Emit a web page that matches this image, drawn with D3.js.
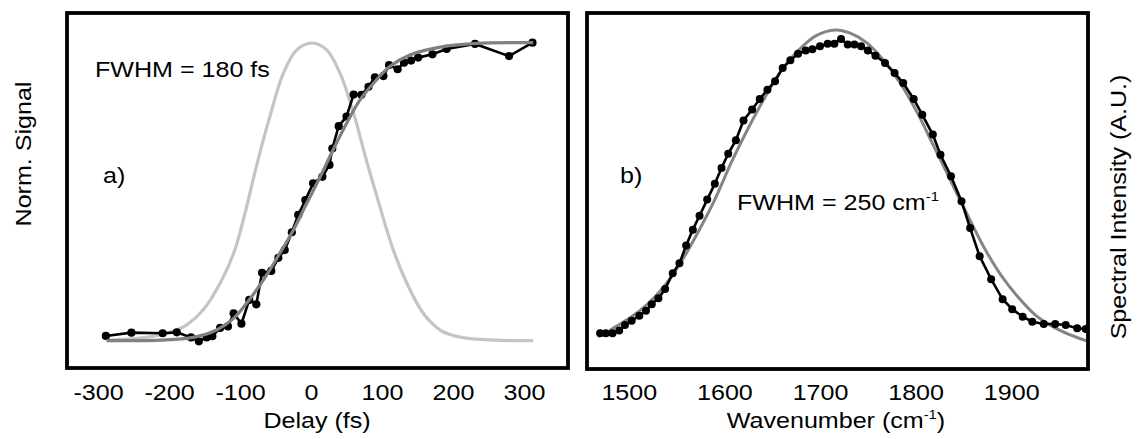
<!DOCTYPE html>
<html>
<head>
<meta charset="utf-8">
<script src="https://cdn.jsdelivr.net/npm/d3@7"></script>
<style>
  body { margin: 0; background: #fff; }
  text { font-family: "Liberation Sans", Arial, sans-serif; fill: #000; }
</style>
</head>
<body>
<svg id="chart" width="1147" height="439"></svg>
<script>
// panel a) - delay scan
var delayFs    = [-289,-253,-209,-189,-169,-158,-147,-139,-128,-117,-109,-98,-87,-77,-69,-56,-46,-37,-27,-18,-8,3,16,26,30,39,50,60,71,81,90,102,110,122,131,141,151,171,191,231,279,312];
var normSignal = [0.017,0.028,0.026,0.029,0.012,-0.001,0.012,0.016,0.044,0.049,0.093,0.058,0.138,0.123,0.229,0.235,0.279,0.305,0.365,0.423,0.473,0.529,0.551,0.591,0.646,0.721,0.753,0.827,0.826,0.853,0.885,0.889,0.926,0.912,0.934,0.941,0.951,0.962,0.980,0.997,0.956,1.001];
// fitted step (dark grey)
var fitDelay  = [-288,-213,-166,-133,-109,-91,-67,-44,-25,-6,13,31,50,69,88,111,139,186,233,313];
var fitSignal = [0.001,0.003,0.012,0.037,0.076,0.126,0.205,0.294,0.372,0.462,0.551,0.641,0.730,0.809,0.865,0.921,0.960,0.988,0.999,1.001];
// pulse (light grey)
var pulseDelay  = [-288,-240,-213,-190,-175,-152,-128,-109,-93,-77,-58,-39,-20,2,22,41,60,78,97,116,135,158,172,186,210,233,270,313];
var pulseSignal = [0.003,0.010,0.020,0.036,0.054,0.104,0.194,0.294,0.428,0.585,0.753,0.898,0.977,1.0,0.977,0.898,0.764,0.607,0.451,0.305,0.194,0.093,0.056,0.031,0.013,0.006,0.002,0.001];
var delayTicks = [-300,-200,-100,0,100,200,300];

// panel b) - spectrum
var wavenumber = [1470,1476,1483,1490,1496,1503,1511,1518,1524,1531,1538,1546,1553,1560,1567,1574,1582,1590,1597,1604,1612,1620,1629,1637,1645,1653,1661,1669,1677,1685,1692,1700,1708,1715,1722,1729,1736,1743,1750,1758,1768,1778,1787,1798,1807,1818,1826,1837,1848,1857,1867,1879,1891,1901,1912,1922,1934,1946,1957,1969,1978];
var intensity  = [0.081,0.081,0.081,0.089,0.106,0.119,0.134,0.149,0.169,0.187,0.215,0.263,0.293,0.347,0.395,0.437,0.486,0.534,0.582,0.625,0.666,0.726,0.759,0.791,0.819,0.845,0.885,0.908,0.928,0.938,0.942,0.951,0.958,0.958,0.973,0.956,0.956,0.951,0.938,0.922,0.900,0.870,0.839,0.791,0.743,0.683,0.622,0.557,0.481,0.400,0.314,0.245,0.184,0.154,0.131,0.116,0.109,0.109,0.106,0.096,0.094];
var fitWn        = [1468,1476,1484,1501,1519,1537,1554,1572,1590,1607,1625,1643,1660,1678,1696,1716,1731,1749,1766,1784,1802,1819,1837,1855,1872,1890,1908,1925,1943,1961,1980];
var fitIntensity = [0.072,0.081,0.097,0.127,0.168,0.223,0.294,0.385,0.486,0.597,0.703,0.799,0.880,0.940,0.983,1.0,0.991,0.961,0.910,0.839,0.748,0.648,0.541,0.435,0.339,0.254,0.188,0.137,0.102,0.077,0.057];
var wnTicks = [1500,1600,1700,1800,1900];

var STRETCH = 1.14;   // glyphs in the original are a bit wider than Arial
var FONT = 22;

var svg = d3.select("#chart");

// frames
var boxA = {left: 67, right: 568, top: 13, bottom: 368};
var boxB = {left: 587, right: 1088, top: 13, bottom: 369};

var xA = d3.scaleLinear().domain([-343.7, 362]).range([boxA.left, boxA.right]);
var yA = d3.scaleLinear().domain([-0.0906, 1.1007]).range([boxA.bottom, boxA.top]);
var xB = d3.scaleLinear().domain([1456.3, 1980.3]).range([boxB.left, boxB.right]);
var yB = d3.scaleLinear().domain([-0.0273, 1.0515]).range([boxB.bottom, boxB.top]);

function zip(xs, ys) {
    return xs.map(function(d, i){ return [d, ys[i]]; });
}

var defs = svg.append("defs");
[["clipA", boxA], ["clipB", boxB]].forEach(function(c){
    defs.append("clipPath").attr("id", c[0])
        .append("rect")
        .attr("x", c[1].left).attr("y", c[1].top)
        .attr("width", c[1].right - c[1].left)
        .attr("height", c[1].bottom - c[1].top);
});

// helper: stretched text label
function label(g, x, y, rot, txt) {
    var t = g.append("g")
        .attr("transform", "translate(" + x + "," + y + ") rotate(" + rot + ") scale(" + STRETCH + ",1)")
        .append("text")
        .attr("font-size", FONT);
    if (typeof txt === "string") t.text(txt);
    else txt(t);
    return t;
}

// ---------- panel a ----------
var gA = svg.append("g").attr("clip-path", "url(#clipA)");
var smooth = d3.line().x(function(d){ return xA(d[0]); }).y(function(d){ return yA(d[1]); }).curve(d3.curveCatmullRom.alpha(0.5));
var straight = d3.line().x(function(d){ return xA(d[0]); }).y(function(d){ return yA(d[1]); });

gA.append("path").datum(zip(pulseDelay, pulseSignal))
    .attr("d", smooth).attr("fill", "none")
    .attr("stroke", "#c4c4c4").attr("stroke-width", 3.2);

var dataA = zip(delayFs, normSignal);
gA.append("path").datum(dataA)
    .attr("d", straight).attr("fill", "none")
    .attr("stroke", "#000").attr("stroke-width", 2.6);
gA.selectAll("circle").data(dataA).enter().append("circle")
    .attr("cx", function(d){ return xA(d[0]); })
    .attr("cy", function(d){ return yA(d[1]); })
    .attr("r", 4.1).attr("fill", "#000");

gA.append("path").datum(zip(fitDelay, fitSignal))
    .attr("d", smooth).attr("fill", "none")
    .attr("stroke", "#808080").attr("stroke-width", 3.2);

// ---------- panel b ----------
var gB = svg.append("g").attr("clip-path", "url(#clipB)");
var smoothB = d3.line().x(function(d){ return xB(d[0]); }).y(function(d){ return yB(d[1]); }).curve(d3.curveCatmullRom.alpha(0.5));
var straightB = d3.line().x(function(d){ return xB(d[0]); }).y(function(d){ return yB(d[1]); });

gB.append("path").datum(zip(fitWn, fitIntensity))
    .attr("d", smoothB).attr("fill", "none")
    .attr("stroke", "#858585").attr("stroke-width", 3);

var dataB = zip(wavenumber, intensity);
gB.append("path").datum(dataB)
    .attr("d", straightB).attr("fill", "none")
    .attr("stroke", "#000").attr("stroke-width", 2.6);
gB.selectAll("circle").data(dataB).enter().append("circle")
    .attr("cx", function(d){ return xB(d[0]); })
    .attr("cy", function(d){ return yB(d[1]); })
    .attr("r", 4).attr("fill", "#000");

// frames on top
[boxA, boxB].forEach(function(b){
    svg.append("rect")
        .attr("x", b.left).attr("y", b.top)
        .attr("width", b.right - b.left).attr("height", b.bottom - b.top)
        .attr("fill", "none").attr("stroke", "#000").attr("stroke-width", 3.8);
});

// axes: labels only, no tick lines
function fmt(d){ return String(d).replace("\u2212", "-"); }
function axis(scale, ticks, y) {
    var ax = svg.append("g")
        .attr("transform", "translate(0," + y + ")")
        .call(d3.axisBottom(scale).tickValues(ticks).tickSize(0).tickFormat(fmt));
    ax.select(".domain").remove();
    ax.selectAll("text")
        .attr("y", 0).attr("dy", 0)
        .attr("font-size", FONT)
        .attr("font-family", "Liberation Sans, Arial, sans-serif")
        .attr("fill", "#000")
        .attr("transform", "scale(" + STRETCH + ",1)");
}
axis(xA, delayTicks, 400);
axis(xB, wnTicks, 400);

label(svg, 317, 428, 0, "Delay (fs)").attr("text-anchor", "middle");
label(svg, 836, 428, 0, function(t){
    t.attr("text-anchor", "middle");
    t.append("tspan").text("Wavenumber (cm");
    t.append("tspan").attr("font-size", 13).attr("dy", -9).text("-1");
    t.append("tspan").attr("dy", 9).text(")");
});
label(svg, 31, 154, -90, "Norm. Signal").attr("text-anchor", "middle");
label(svg, 1126, 207, -90, "Spectral Intensity (A.U.)").attr("text-anchor", "middle");

// annotations
label(svg, 95, 77, 0, "FWHM = 180 fs");
label(svg, 103, 183, 0, "a)");
label(svg, 620, 183, 0, "b)");
label(svg, 737, 210, 0, function(t){
    t.append("tspan").text("FWHM = 250 cm");
    t.append("tspan").attr("font-size", 13).attr("dy", -9).text("-1");
});
</script>
</body>
</html>
